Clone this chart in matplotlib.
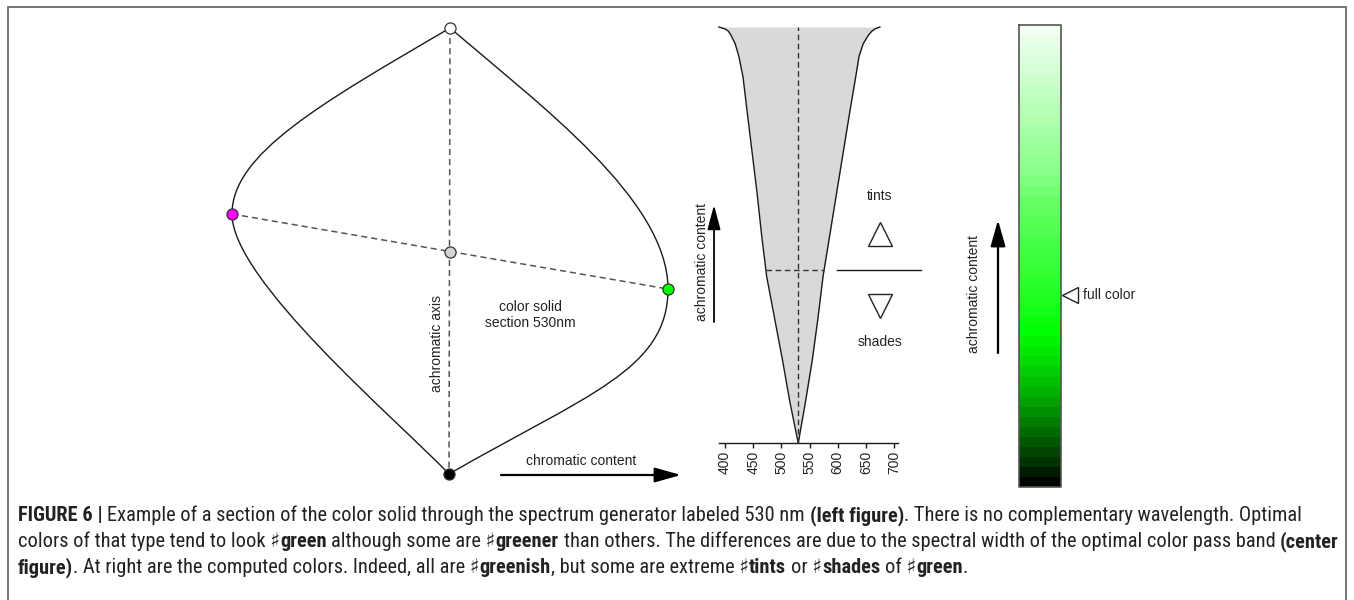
import numpy as np
import matplotlib
matplotlib.use("Agg")
import matplotlib.pyplot as plt
from matplotlib.path import Path
from matplotlib.patches import PathPatch
from matplotlib.colors import LinearSegmentedColormap
from matplotlib import font_manager
from matplotlib.font_manager import FontProperties

W, H, DPI = 1354, 600, 100

# ---------------- data ----------------
# Left panel: colour solid section (positions in drawing pixels)
pt_white = (450, 28)
pt_black = (449, 474)
pt_magenta = (232, 214)
pt_green = (668, 289)
pt_gray = (450, 252)
# outline: four cubic Bezier segments (start, ctrl1, ctrl2, end)
outline_segments = [
    [(450, 28), (320, 104), (232, 154), (232, 214)],
    [(232, 214), (232, 280), (395, 418), (449, 474)],
    [(449, 474), (586, 395), (668, 370), (668, 289)],
    [(668, 289), (668, 200), (540, 105), (450, 28)],
]

# Center panel: optimal colour pass band versus achromatic level
wl_ticks = [400, 450, 500, 550, 600, 650, 700]
wl_tick_labels = ["400", "450", "500", "550", "600", "650", "700"]
section_nm = 530
band_level = [0.0, 0.10, 0.20, 0.30, 0.40, 0.50, 0.60, 0.70, 0.80, 0.88, 0.93, 0.96, 0.98,
              0.99, 0.996, 1.0]
band_left_nm = [530, 515, 502, 488, 474, 465, 457, 448, 439, 432, 424.5, 418, 410.7,
                406, 399, 389]
band_right_nm = [530, 543, 555, 565, 574, 586, 598, 610, 622, 632, 638, 645.4, 654.4,
                 660.6, 667.2, 675]
full_color_level = 0.416

# Right panel: computed colours, from top (tints) to bottom (shades)
bar_pos = [0.0, 0.091, 0.162, 0.234, 0.307, 0.379, 0.487, 0.589, 0.667, 0.740, 0.812, 0.883, 0.957, 1.0]
bar_colors = ["#f2fff2", "#d4ffd4", "#bcffbc", "#a4ffa4", "#8cff8c", "#66ff66", "#42ff42",
              "#22ff22", "#00ff00", "#00d800", "#00aa00", "#007000", "#003000", "#000500"]
bar_bands = 46

# Caption
cap_lines = [
    [("FIGURE 6 |", True),
     (" Example of a section of the color solid through the spectrum generator labeled 530 nm ", False),
     ("(left figure)", True),
     (". There is no complementary wavelength. Optimal", False)],
    [("colors of that type tend to look \u266f", False), ("green", True),
     (" although some are \u266f", False), ("greener", True),
     (" than others. The differences are due to the spectral width of the optimal color pass band ", False),
     ("(center", True)],
    [("figure)", True), (". At right are the computed colors. Indeed, all are \u266f", False),
     ("greenish", True), (", but some are extreme \u266f", False), ("tints", True),
     (" or \u266f", False), ("shades", True), (" of \u266f", False), ("green", True), (".", False)],
]

# ---------------- styling ----------------
plt.rcParams['font.family'] = ['Liberation Sans', 'DejaVu Sans']
TXT = "#222222"
LAB = 10

fig = plt.figure(figsize=(W / DPI, H / DPI), dpi=DPI)
ax = fig.add_axes([0, 0, 1, 1])
ax.set_xlim(0, W)
ax.set_ylim(H, 0)
ax.axis('off')

# frame
ax.plot([8, 8, 1346, 1346], [600, 7, 7, 600], color="#6a6a6a", lw=1.3, solid_joinstyle='miter')

# ---------- left panel ----------
verts, codes = [], []
for i, seg in enumerate(outline_segments):
    if i == 0:
        verts.append(seg[0]); codes.append(Path.MOVETO)
    verts.extend(seg[1:]); codes.extend([Path.CURVE4] * 3)
ax.add_patch(PathPatch(Path(verts, codes), facecolor='none', edgecolor='#1a1a1a', lw=1.0))

dash = (0, (4, 2.6))
ax.plot([pt_white[0], pt_black[0]], [pt_white[1], pt_black[1]], color='#555555', lw=1.1, linestyle=dash)
ax.plot([pt_magenta[0], pt_green[0]], [pt_magenta[1], pt_green[1]], color='#555555', lw=1.1, linestyle=dash)

for p, c in [(pt_white, 'white'), (pt_black, 'black'), (pt_magenta, '#ff00ff'),
             (pt_green, '#00ff00'), (pt_gray, '#d3d3d3')]:
    ax.plot(p[0], p[1], marker='o', ms=8, mfc=c, mec='#333333', mew=0.9, zorder=5)

ax.text(437, 344, "achromatic axis", rotation=90, ha='center', va='center', fontsize=LAB, color=TXT)
ax.text(530, 315, "color solid\nsection 530nm", ha='center', va='center', fontsize=LAB,
        color=TXT, linespacing=1.15)
ax.text(581, 461, "chromatic content", ha='center', va='center', fontsize=LAB, color=TXT)
arrow_kw = dict(arrowstyle='-|>,head_length=1.6,head_width=0.45', color='black', lw=1.6,
                shrinkA=0, shrinkB=0, mutation_scale=10)
ax.annotate('', xy=(681, 475), xytext=(501, 475), arrowprops=arrow_kw)

# ---------- center panel ----------
px_per_nm = (894 - 725) / 300.0
def nm_at(px):
    return 400 + (px - 725) / px_per_nm
ax_l, ax_r, ax_b, ax_t = 700, 920, 443, 20
level_px = 443 - 27
ax2 = fig.add_axes([ax_l / W, (H - ax_b) / H, (ax_r - ax_l) / W, (ax_b - ax_t) / H])
ax2.patch.set_alpha(0)
ax2.set_xlim(nm_at(ax_l), nm_at(ax_r))
ax2.set_ylim(0, (ax_b - ax_t) / level_px)
for s in ['top', 'left', 'right']:
    ax2.spines[s].set_visible(False)
ax2.spines['bottom'].set_bounds(nm_at(719), nm_at(898))
ax2.spines['bottom'].set_linewidth(1.0)
ax2.spines['bottom'].set_color('#1a1a1a')
ax2.set_yticks([])
ax2.set_xticks(wl_ticks)
ax2.set_xticklabels(wl_tick_labels, rotation=90, fontsize=LAB, color=TXT)
ax2.tick_params(axis='x', direction='out', length=3.8, width=1.0, pad=1.5, color='#1a1a1a')

ax2.fill_betweenx(band_level, band_left_nm, band_right_nm, color='#d9d9d9', lw=0)
ax2.plot(band_left_nm, band_level, color='#1a1a1a', lw=1.0)
ax2.plot(band_right_nm, band_level, color='#1a1a1a', lw=1.0)
ax2.plot([section_nm, section_nm], [0, 1], color='#333333', lw=1.0, linestyle=dash)
fl = np.interp(full_color_level, band_level, band_left_nm)
fr = np.interp(full_color_level, band_level, band_right_nm)
ax2.plot([fl, fr], [full_color_level, full_color_level], color='#333333', lw=1.0, linestyle=dash)

arrow_kw2 = dict(arrowstyle='-|>,head_length=1.5,head_width=0.4', color='black', lw=1.3,
                 shrinkA=0, shrinkB=0, mutation_scale=10)
ax.annotate('', xy=(714, 205), xytext=(714, 322), arrowprops=arrow_kw2)
ax.text(702, 262, "achromatic content", rotation=90, ha='center', va='center', fontsize=LAB, color=TXT)

ax.text(880, 196, "tints", ha='center', va='center', fontsize=LAB, color=TXT)
ax.text(880, 342, "shades", ha='center', va='center', fontsize=LAB, color=TXT)
ax.plot(880, 234, marker='^', ms=17, mfc='white', mec='#222222', mew=1.0)
ax.plot(880, 306, marker='v', ms=17, mfc='white', mec='#222222', mew=1.0)
ax.plot([837, 921], [270, 270], color='#1a1a1a', lw=1.0)

# ---------- right panel ----------
cmap = LinearSegmentedColormap.from_list('greens', list(zip(bar_pos, bar_colors)), N=bar_bands)
grad = np.linspace(0, 1, bar_bands).reshape(-1, 1)
ax.imshow(grad, cmap=cmap, extent=(1019, 1061, 487, 25), origin='upper', aspect='auto',
          interpolation='nearest', zorder=2)
ax.plot([1019, 1061, 1061, 1019, 1019], [25, 25, 487, 487, 25], color='#555555', lw=1.2, zorder=3)
ax.plot(1070, 295, marker='<', ms=12, mfc='white', mec='#222222', mew=1.0)
ax.text(1083, 295, "full color", ha='left', va='center', fontsize=LAB, color=TXT)
ax.annotate('', xy=(998, 220), xytext=(998, 353), arrowprops=arrow_kw)
ax.text(974, 294, "achromatic content", rotation=90, ha='center', va='center', fontsize=LAB, color=TXT)

# ---------- caption ----------
def has_font(name):
    try:
        font_manager.findfont(FontProperties(family=name), fallback_to_default=False)
        return True
    except Exception:
        return False

cap_main = next((f for f in ['Liberation Sans Narrow', 'Roboto Condensed', 'Liberation Sans']
                 if has_font(f)), 'DejaVu Sans')
cap_family = [cap_main, 'DejaVu Sans']
renderer = fig.canvas.get_renderer()

def measure(s, bold, size):
    t = ax.text(0, 0, s, fontsize=size, fontweight='bold' if bold else 'normal', family=cap_family)
    w = t.get_window_extent(renderer).width
    t.remove()
    return w

def layout(pieces, size):
    sp = measure("a a", False, size) - measure("aa", False, size)
    x = 0.0
    items = []
    for s, b in pieces:
        lead = len(s) - len(s.lstrip(' '))
        trail = len(s) - len(s.rstrip(' '))
        core = s.strip(' ')
        x += lead * sp
        items.append((x, core, b))
        x += measure(core, b, size)
        x += trail * sp
    return items, x

_, w_ref = layout(cap_lines[1], 12)
cap_size = 12 * 1313.0 / w_ref
cap_x0 = 18
cap_baselines = [521, 547, 573]
for pieces, yb in zip(cap_lines, cap_baselines):
    items, _ = layout(pieces, cap_size)
    for x, s, b in items:
        ax.text(cap_x0 + x, yb, s, fontsize=cap_size, fontweight='bold' if b else 'normal',
                family=cap_family, va='baseline', ha='left', color=TXT)

fig.savefig("out.png", dpi=DPI)
